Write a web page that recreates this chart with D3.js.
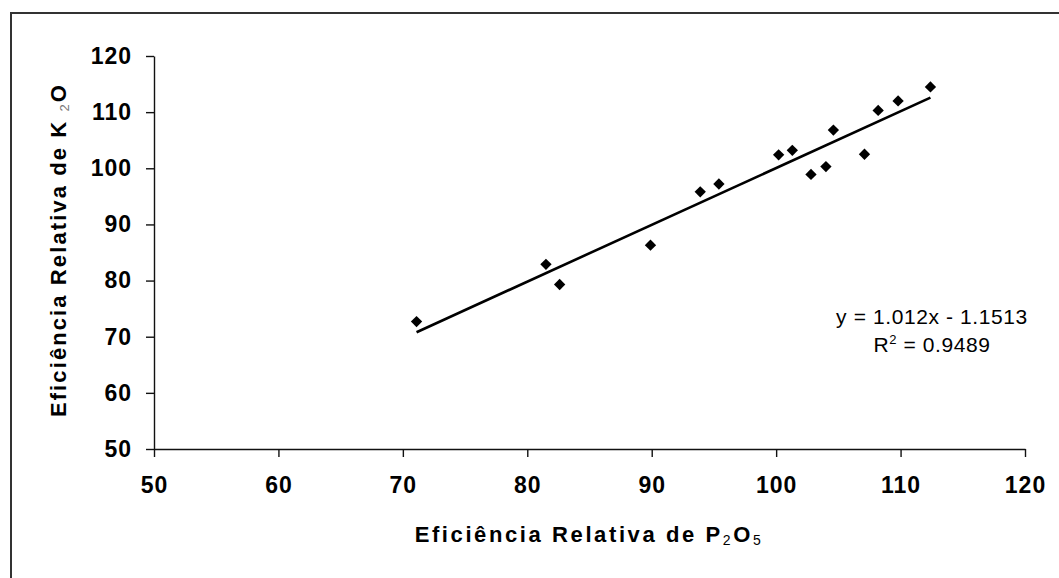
<!DOCTYPE html>
<html>
<head>
<meta charset="utf-8">
<script src="https://cdn.jsdelivr.net/npm/d3@7"></script>
<style>
  html, body { margin: 0; padding: 0; background: #fff; }
  svg { display: block; }
  text { font-family: "Liberation Sans", Arial, sans-serif; fill: #000; }
</style>
</head>
<body>
<svg id="chart" width="1059" height="578"></svg>
<script>
// Relative efficiency of P2O5 (x) against K2O (y), one point per source
const p2o5 = [71.1, 81.5, 82.6, 89.9, 93.9, 95.4, 100.2, 101.3, 102.8, 104.0, 104.6, 107.1, 108.2, 109.8, 112.4];
const k2o  = [72.7, 82.9, 79.3, 86.3, 95.8, 97.2, 102.4, 103.2, 98.9, 100.3, 106.8, 102.5, 110.3, 112.0, 114.5];

// Linear trend and its fit
const slope = 1.012;
const intercept = -1.1513;
const rSquared = 0.9489;

// Axis ticks
const xTicks = [50, 60, 70, 80, 90, 100, 110, 120];
const yTicks = [50, 60, 70, 80, 90, 100, 110, 120];

const svg = d3.select("#chart");

// outer frame (runs past the right and bottom edges)
svg.append("rect")
  .attr("x", 11).attr("y", 13)
  .attr("width", 1200).attr("height", 800)
  .attr("fill", "none").attr("stroke", "#333").attr("stroke-width", 2);

const x = d3.scaleLinear().domain([50, 120]).range([154, 1025]);
const y = d3.scaleLinear().domain([50, 120]).range([449, 56]);

function styleAxis(g) {
  g.select(".domain").attr("stroke", "#111").attr("stroke-width", 1.4);
  g.selectAll(".tick line").attr("stroke", "#111").attr("stroke-width", 1.4);
  g.selectAll(".tick text")
    .attr("font-size", 23).attr("font-weight", "bold")
    .attr("font-family", "'Liberation Sans', Arial, sans-serif")
    .attr("letter-spacing", 1);
}

// x axis
svg.append("g")
  .attr("transform", `translate(0,${y(50)})`)
  .call(d3.axisBottom(x).tickValues(xTicks).tickSize(8).tickPadding(20).tickSizeOuter(0))
  .call(styleAxis);

// y axis
svg.append("g")
  .attr("transform", `translate(${x(50)},0)`)
  .call(d3.axisLeft(y).tickValues(yTicks).tickSize(8).tickPadding(14).tickSizeOuter(0))
  .call(styleAxis);

// trend line across the observed P2O5 range
const xMin = d3.min(p2o5), xMax = d3.max(p2o5);
svg.append("line")
  .attr("x1", x(xMin)).attr("y1", y(slope * xMin + intercept))
  .attr("x2", x(xMax)).attr("y2", y(slope * xMax + intercept))
  .attr("stroke", "#000").attr("stroke-width", 2.6);

// diamond markers
const diamond = d3.symbol().type(d3.symbolSquare).size(64);
svg.append("g").selectAll("path")
  .data(p2o5.map((v, i) => [v, k2o[i]]))
  .join("path")
  .attr("d", diamond)
  .attr("transform", d => `translate(${x(d[0])},${y(d[1])}) rotate(45)`)
  .attr("fill", "#000");

// regression equation
const eq = svg.append("g").attr("font-size", 21);
eq.append("text")
  .attr("x", 932).attr("y", 324)
  .attr("text-anchor", "middle")
  .attr("letter-spacing", 0.6)
  .text(`y = ${slope}x - ${Math.abs(intercept)}`);
const r2 = eq.append("text")
  .attr("x", 932).attr("y", 352)
  .attr("text-anchor", "middle")
  .attr("letter-spacing", 0.6);
r2.append("tspan").text("R");
r2.append("tspan").attr("font-size", 13).attr("dy", -8).text("2");
r2.append("tspan").attr("dy", 8).text(` = ${rSquared}`);

// x axis title
const xt = svg.append("text")
  .attr("x", 589).attr("y", 542)
  .attr("text-anchor", "middle")
  .attr("font-size", 22).attr("font-weight", "bold")
  .attr("letter-spacing", 2.6);
xt.append("tspan").text("Eficiência Relativa de P");
xt.append("tspan").attr("font-size", 14).attr("font-weight", "normal").attr("dy", 3).text("2");
xt.append("tspan").attr("dy", -3).text("O");
xt.append("tspan").attr("font-size", 14).attr("font-weight", "normal").attr("dy", 3).text("5");

// y axis title
const yt = svg.append("text")
  .attr("transform", "translate(66,250) rotate(-90)")
  .attr("text-anchor", "middle")
  .attr("font-size", 22).attr("font-weight", "bold")
  .attr("letter-spacing", 2.1);
yt.append("tspan").text("Eficiência Relativa de K ");
yt.append("tspan").attr("font-size", 13).attr("font-weight", "normal").attr("fill", "#777").attr("dy", 3).text("2");
yt.append("tspan").attr("dy", -3).text("O");
</script>
</body>
</html>
